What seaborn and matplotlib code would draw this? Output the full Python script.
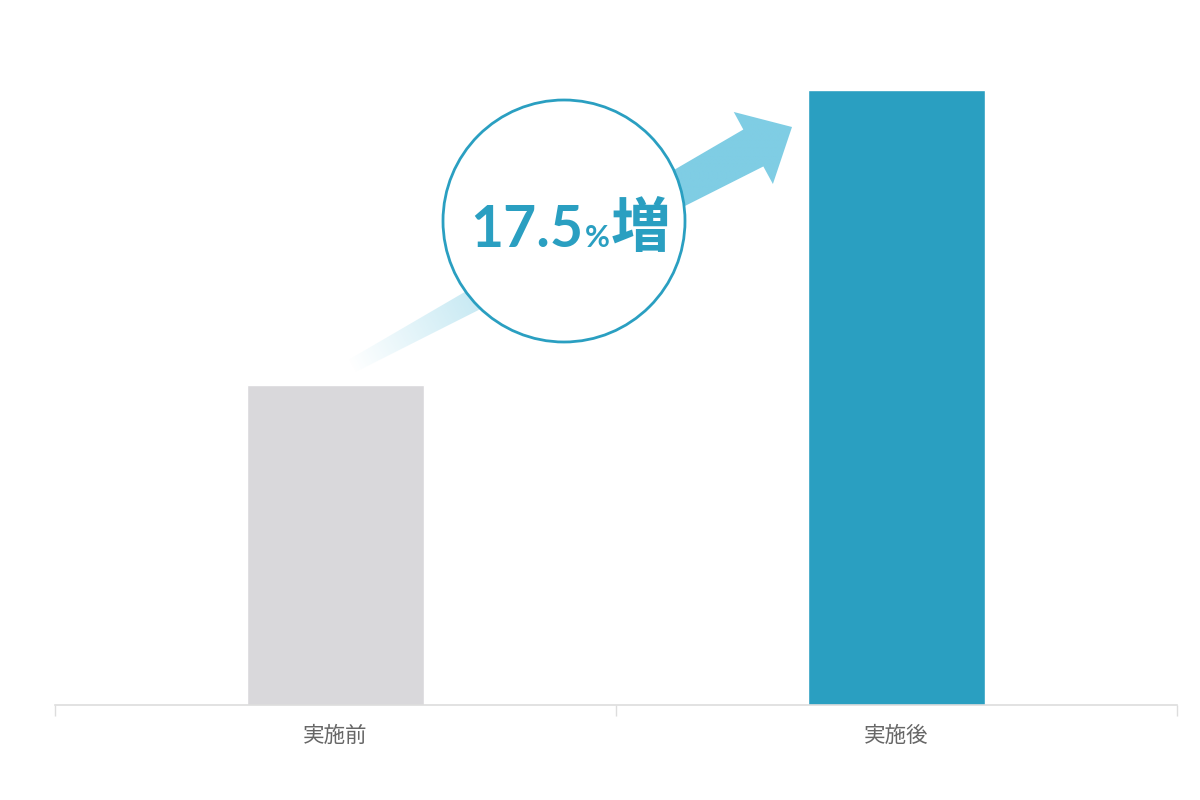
import numpy as np
import matplotlib
matplotlib.use('Agg')
import matplotlib.pyplot as plt
from matplotlib.patches import Polygon, Circle
from matplotlib.colors import to_rgb
import seaborn as sns

# データ
labels = ['実施前', '実施後']
values = [100.0, 117.5]
bar_colors = ['#d9d8db', '#2a9fc1']
badge_num = '17.5'
badge_pct = '%'
badge_word = '増'

ACCENT = '#2a9fc1'
ARROW = '#7fcde4'

sns.set_theme(style='white')
plt.rcParams['font.family'] = ['Noto Sans CJK JP', 'DejaVu Sans']

fig = plt.figure(figsize=(12, 8), dpi=100)
ax = fig.add_axes([55 / 1200, 95 / 800, 1122 / 1200, 615 / 800])

sns.barplot(x=labels, y=values, hue=labels, palette=bar_colors, width=0.315,
            saturation=1, legend=False, ax=ax)
ax.set_xlim(-0.5, 1.5)
ax.set_ylim(81.0, 117.5)
ax.set_xlabel('')
ax.set_ylabel('')
ax.set_yticks([])
sns.despine(ax=ax, left=True)
ax.spines['bottom'].set_color('#dddddd')
ax.spines['bottom'].set_linewidth(1.2)
ax.set_xticks([-0.5, 0.5, 1.5], minor=True)
ax.tick_params(axis='x', which='major', bottom=True, length=0, pad=14,
               labelsize=15.5, labelcolor='#666666')
ax.tick_params(axis='x', which='minor', bottom=True, length=8, width=1,
               color='#dddddd', direction='out')

# 重ね描き用のレイヤー (ピクセル座標)
ov = fig.add_axes([0, 0, 1, 1])
ov.set_xlim(0, 1200)
ov.set_ylim(800, 0)
ov.axis('off')
ov.patch.set_alpha(0)

# グラデーション矢印
tail = np.array([350.0, 367.0])
tip = np.array([792.0, 127.0])
d = tip - tail
L = np.hypot(*d)
u = d / L
n = np.array([-u[1], u[0]])
local = [(0, -7), (L - 44, -21), (L - 44, -41), (L, 0),
         (L - 44, 41), (L - 44, 21), (0, 7)]
pts = np.array([tail + s * u + t * n for s, t in local])
poly = Polygon(pts, closed=True, facecolor='none', edgecolor='none')
ov.add_patch(poly)

x0, y0 = pts.min(axis=0) - 2
x1, y1 = pts.max(axis=0) + 2
X, Y = np.meshgrid(np.linspace(x0, x1, 400), np.linspace(y0, y1, 300))
S = (X - tail[0]) * u[0] + (Y - tail[1]) * u[1]
alpha = np.clip(S / 330.0, 0, 1)
img = np.zeros(X.shape + (4,))
img[..., :3] = to_rgb(ARROW)
img[..., 3] = alpha
im = ov.imshow(img, extent=(x0, x1, y1, y0), origin='upper', aspect='auto',
               zorder=2, interpolation='bilinear')
im.set_clip_path(poly)

# 円形バッジ
ov.add_patch(Circle((564, 221), 121, facecolor='white', edgecolor=ACCENT,
                    lw=2, zorder=3))

renderer = fig.canvas.get_renderer()
t1 = ov.text(470, 247, badge_num, fontsize=41, fontweight='bold', color=ACCENT,
             family=['Lato', 'Noto Sans CJK JP'], ha='left', va='baseline', zorder=4)
bb = t1.get_window_extent(renderer).transformed(ov.transData.inverted())
t2 = ov.text(bb.x1 + 2, 247, badge_pct, fontsize=22, fontweight='bold', color=ACCENT,
             family=['Lato', 'Noto Sans CJK JP'], ha='left', va='baseline', zorder=4)
bb = t2.get_window_extent(renderer).transformed(ov.transData.inverted())
ov.text(bb.x1 + 1, 247, badge_word, fontsize=43, fontweight='bold', color=ACCENT,
        family=['Noto Sans CJK JP'], ha='left', va='baseline', zorder=4)

fig.savefig('out.png', dpi=100)
